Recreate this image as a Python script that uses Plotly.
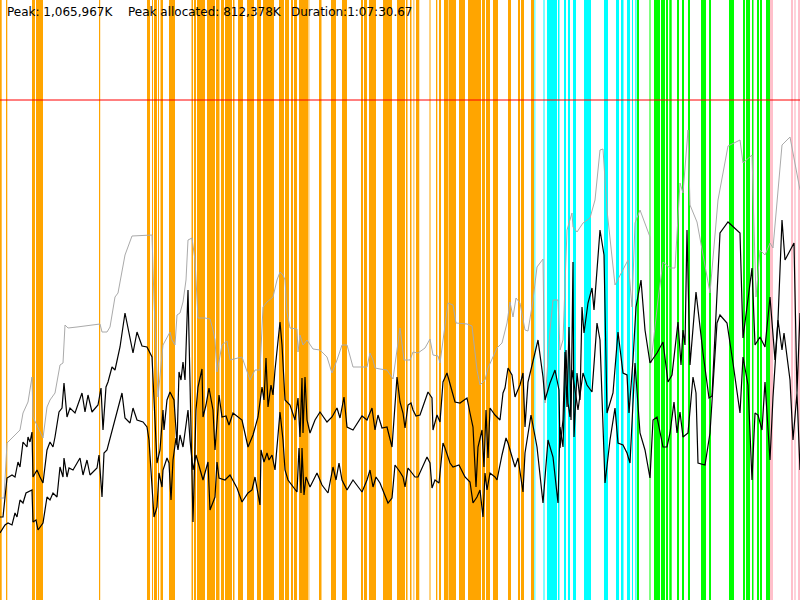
import plotly.graph_objects as go

# ---------------- data ----------------
# time axis in sample units (0..800), memory in arbitrary units (0..600)
peak_t = [0,4,7,12,20,23,28,32,33,43,47,50,55,60,63,65,68,77,87,100,102,107,110,115,118,125,132,152,154,158,163,170,172,175,177,180,183,186,188,192,195,198,205,210,213,215,217,222,227,230,242,250,255,260,263,267,273,277,280,283,285,287,290,297,298,300,303,307,313,320,327,332,337,342,347,353,367,370,373,375,380,387,393,397,400,404,410,413,418,425,430,433,438,440,443,448,453,456,467,472,477,480,485,488,497,502,507,510,513,516,520,525,528,533,537,543,545,550,553,558,560,563,567,569,572,573,577,583,590,595,600,603,607,615,628,632,635,640,650,651,658,663,670,675,680,683,688,690,697,710,718,728,740,743,752,756,760,765,770,773,782,790,800]
peak_v = [102,102,157,162,170,187,198,223,183,162,193,200,207,235,237,275,272,273,274,276,268,268,273,303,307,345,364,365,300,203,255,268,260,255,285,287,298,320,360,362,340,282,282,281,270,260,228,255,259,240,243,220,230,230,293,298,303,320,328,325,320,288,272,271,248,265,255,260,251,250,243,227,240,255,255,233,233,247,240,232,231,230,221,250,272,240,240,248,247,252,261,245,244,237,260,297,295,277,276,274,230,215,220,232,252,257,277,298,283,302,297,270,269,300,333,341,197,270,300,300,250,260,370,377,387,373,368,377,382,400,450,451,390,315,340,293,377,390,363,237,300,338,332,332,417,407,470,395,378,307,400,454,460,437,445,303,350,345,357,352,455,463,410]

upper_t = [0,3,7,12,15,18,20,23,27,28,30,32,33,37,40,43,47,50,53,55,59,62,64,67,70,75,82,85,88,92,98,101,103,106,108,112,115,120,125,133,137,142,147,152,157,160,163,164,167,170,174,177,179,181,183,185,188,190,193,196,198,202,203,206,209,213,215,219,222,226,229,233,242,248,253,258,262,264,266,268,271,273,275,280,282,285,290,295,298,300,302,303,305,307,310,315,320,327,332,337,340,344,347,353,362,367,372,375,378,382,387,392,397,400,403,405,408,411,413,416,420,428,432,433,437,440,443,447,450,455,460,467,470,473,476,478,482,484,486,488,490,495,500,503,505,508,512,515,517,520,523,525,528,532,538,543,545,550,555,559,560,563,565,567,569,571,573,574,577,580,582,584,588,592,594,600,604,607,613,618,623,627,629,633,636,641,645,650,657,663,668,672,678,681,683,685,687,690,696,703,709,712,720,728,740,743,748,752,755,760,765,770,775,778,782,785,794,797,800]
upper_v = [83,83,122,125,123,138,133,158,153,163,158,168,123,130,123,117,150,158,153,163,188,192,217,183,192,187,207,188,205,188,195,212,170,213,218,233,230,253,287,247,268,254,253,243,137,150,190,170,200,208,200,155,228,220,238,220,310,220,78,190,213,231,183,195,212,190,150,205,183,184,175,187,180,153,165,183,213,200,242,193,215,205,230,278,255,200,195,180,202,163,222,167,223,180,167,180,188,178,183,192,182,203,173,170,184,180,192,170,185,172,173,153,223,198,187,172,195,197,190,184,185,208,202,170,185,178,218,227,215,198,197,202,187,173,113,153,170,133,190,142,192,185,180,207,212,232,225,203,208,215,227,173,218,235,260,223,200,217,230,210,152,180,248,193,273,180,338,163,227,200,293,267,297,312,290,370,345,187,207,268,227,225,187,240,293,320,270,237,247,258,218,225,278,235,270,255,370,235,308,247,202,204,367,378,367,262,300,332,255,263,253,303,240,280,380,340,357,207,287]

lower_t = [0,5,8,12,15,17,20,23,26,30,32,33,36,38,43,47,50,53,57,60,63,64,67,69,73,80,83,87,90,97,99,102,104,107,110,115,122,125,130,133,137,143,147,149,152,154,157,159,162,163,167,169,171,173,176,178,180,183,186,188,190,193,196,198,200,203,208,210,215,217,219,225,230,237,242,248,252,255,260,261,264,267,269,272,275,280,283,285,288,293,297,299,301,302,304,306,310,317,322,328,333,336,339,342,347,353,362,367,370,373,376,380,383,388,392,395,400,403,405,408,412,415,418,427,430,432,435,439,443,445,450,453,459,465,470,473,477,480,483,485,487,490,495,497,502,506,508,515,518,523,525,531,537,543,548,553,558,560,563,566,568,570,572,575,578,583,587,592,597,600,605,610,615,618,623,627,630,635,640,645,650,653,657,663,667,670,674,677,680,683,688,693,696,698,705,710,717,720,727,733,740,743,748,752,755,758,762,765,770,773,778,782,784,790,793,797,800]
lower_v = [67,75,77,75,87,83,100,97,107,109,110,78,80,70,77,103,100,107,103,133,123,142,123,132,130,142,125,140,125,132,145,103,147,150,162,180,207,182,177,192,180,178,173,160,113,83,93,127,113,130,142,137,100,140,162,150,165,153,175,190,160,130,145,138,130,120,138,90,103,138,122,120,125,112,98,107,110,123,95,150,138,147,140,145,130,188,160,130,120,113,108,152,107,152,105,123,113,127,115,107,133,120,137,120,110,120,108,120,130,113,123,117,110,97,102,135,128,123,113,132,127,123,123,143,137,112,120,117,157,152,137,133,135,123,118,97,103,110,83,127,110,127,123,120,145,162,157,133,142,108,147,185,153,97,160,143,97,173,153,250,197,183,230,210,190,227,215,208,277,260,117,160,192,157,155,147,137,237,167,150,122,180,183,153,153,167,198,167,188,163,167,223,207,137,135,167,277,285,277,237,187,243,215,120,187,185,170,218,140,203,280,250,267,220,160,207,130]

limit_value = 500

# activity intervals (start, end) per phase
orange_spans = [(0,1.7),(6,7.3),(32,35),(36,43),(99,100.2),(147,150),(152,153),(154,157),(158,159),(160.5,163),(169,175),(191.5,193),(194,196),(197,200),
    (200,205),(207,215),(216,219.5),(221,224),(225,232),(233,234.5),(238,243),(247,254),(257,261),(263,274),(279,284),(285,289),(291,293),(294,297),
    (299,308),(308.5,309.3),(319,321.5),(331,336),(342,347),(361,363),(364,367),(369,376),(383,392),(397,400),
    (400,405),(406,407.5),(410,411.5),(413.5,414.3),(416,419.3),(429.5,430.5),(436,437.3),(439,441),(444,448),(448.5,456),(459,465),(468,481),
    (482,485),(486,490),(493,498),(508,511),(518,520),(521,524),(531,534)]
cyan_spans = [(534.5,535.3),(543.5,544.5),(547,557),(558,559.5),(564,566),(568,570),(573,576),(584,591),(604,608),(616,619),(621,623.5),(627,630),(632,633),(635.3,636.5)]
green_spans = [(637,639),(649.5,650.5),(654,660),(661,665),(666,668),(669.3,671.7),(677,679),(682,684),(688,690),(701,706),(709,711),(729,734),(743,745),(746,750),(752,753.5),(757,759),(760,762),(766,770)]
pink_spans = [(770,773),(791,793),(794.3,795.7),(798,800)]

header_items = ["Peak: 1,065,967K", "Peak allocated: 812,378K", "Duration:1:07:30.67"]
header_x = [5, 126, 289]

# ---------------- figure ----------------
fig = go.Figure()

phase_colors = [(orange_spans, "#FFA500"), (cyan_spans, "#00FFFF"), (green_spans, "#00FF00"), (pink_spans, "#FFC0CB")]
for spans, col in phase_colors:
    for s, e in spans:
        fig.add_shape(type="rect", xref="x", yref="paper", x0=s, x1=e, y0=0, y1=1,
                      fillcolor=col, line_width=0, layer="below")

fig.add_trace(go.Scatter(x=peak_t, y=peak_v, mode="lines", line=dict(color="#AAAAAA", width=1), hoverinfo="skip"))
fig.add_trace(go.Scatter(x=upper_t, y=upper_v, mode="lines", line=dict(color="black", width=1.2), hoverinfo="skip"))
fig.add_trace(go.Scatter(x=lower_t, y=lower_v, mode="lines", line=dict(color="black", width=1.2), hoverinfo="skip"))

fig.add_shape(type="line", xref="paper", yref="y", x0=0, x1=1, y0=limit_value, y1=limit_value,
              line=dict(color="#FF0000", width=1), layer="above")

for txt, px in zip(header_items, header_x):
    fig.add_annotation(text=txt, xref="paper", yref="paper", x=px / 800, y=1 - 12 / 600,
                       xanchor="left", yanchor="middle", showarrow=False,
                       font=dict(family="DejaVu Sans", size=12, color="black"))

fig.update_layout(width=800, height=600, margin=dict(l=0, r=0, t=0, b=0),
                  plot_bgcolor="white", paper_bgcolor="white", showlegend=False,
                  xaxis=dict(range=[0, 800], visible=False, fixedrange=True),
                  yaxis=dict(range=[0, 600], visible=False, fixedrange=True))

fig.write_html("out.html", config={"displayModeBar": False},
               post_script="document.body.style.margin='0';document.body.style.overflow='hidden';")
